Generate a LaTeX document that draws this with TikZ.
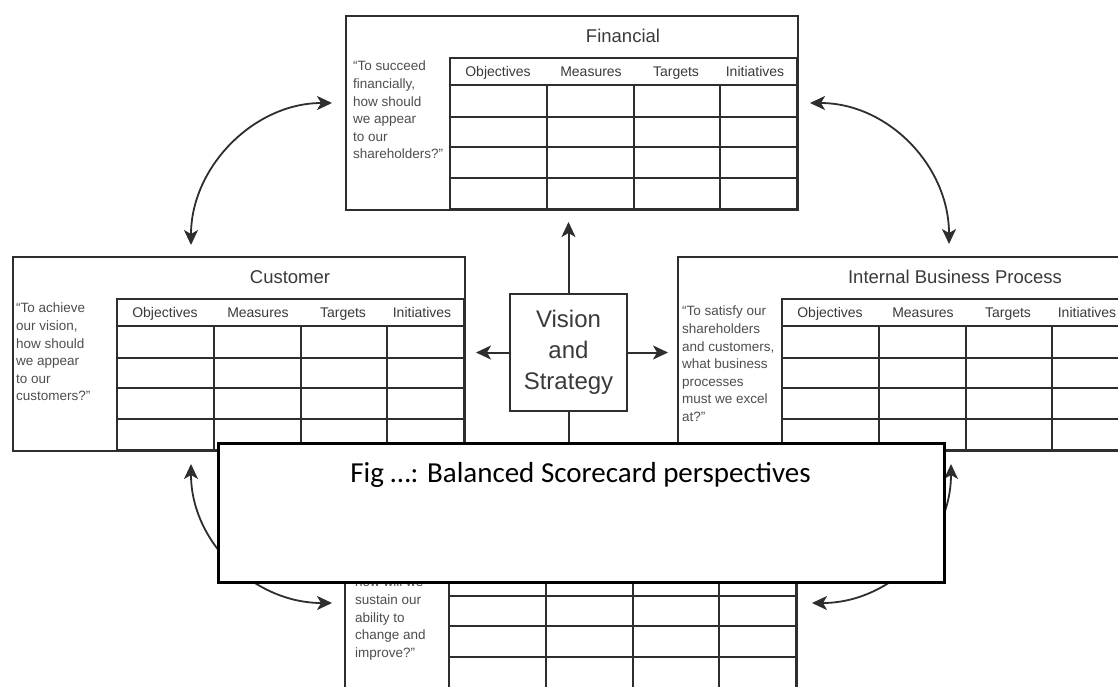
\documentclass[tikz,border=0pt]{standalone}
\usepackage{fontspec}
\setmainfont{Liberation Sans}
\newfontfamily\captionfont{Carlito}
\usetikzlibrary{arrows.meta,calc}
\definecolor{ink}{HTML}{2E2E2E}
\definecolor{txt}{HTML}{3A3A3A}
\definecolor{qtxt}{HTML}{4E4E4E}
\tikzset{
  cardframe/.style={draw=ink, line width=2pt, minimum width=452pt, minimum height=194pt, inner sep=0pt, anchor=north west},
  gridline/.style={draw=ink, line width=1.3pt},
  cardtitle/.style={text=txt, font=\fontsize{18.5}{22}\selectfont, inner sep=0pt, anchor=base},
  colhead/.style={text=txt, font=\fontsize{14}{16}\selectfont, inner sep=0pt, anchor=base},
  question/.style={text=qtxt, font=\fontsize{13.5}{17.6}\selectfont, align=left, inner sep=0pt, anchor=north west},
  visionbox/.style={draw=ink, line width=2pt, minimum width=117pt, minimum height=117pt, align=center, text=txt, font=\fontsize{24}{31}\selectfont, inner sep=0pt},
  tipstyle/.style={Stealth[length=15pt,width=14pt,inset=4pt]},
  vsarrow/.style={-{Stealth[length=15pt,width=14pt,inset=4pt]}, draw=ink, line width=2pt},
  biarrow/.style={{Stealth[length=15pt,width=14pt,inset=4pt]}-{Stealth[length=15pt,width=14pt,inset=4pt]}, draw=ink, line width=1.8pt},
  captionbox/.style={draw=black, line width=2.5pt, fill=white, minimum width=726pt, minimum height=139pt, inner sep=0pt, anchor=north west},
  captiontext/.style={font=\captionfont\fontsize{29}{34}\selectfont, text=black, inner sep=0pt, anchor=base},
}
% frame of one perspective card with its objectives/measures/targets/initiatives grid
\newcommand\cardgrid[3]{%
  \node[cardframe] (#1) at (#2,#3) {};
  \begin{scope}[shift={(#2,#3)}]
    \draw[gridline] (105,43) rectangle (452,194);
    \draw[gridline] (105,70) -- (452,70);
    \foreach \r in {102,132,163} {\draw[gridline] (105,\r) -- (452,\r);}
    \foreach \c in {202,289,375} {\draw[gridline] (\c,70) -- (\c,194);}
  \end{scope}}
% card title and column headings
\newcommand\cardheads[4]{%
  \begin{scope}[shift={(#2,#3)}]
    \node[cardtitle] (#1-title) at (278,27.5) {#4};
    \node[colhead] (#1-obj) at (153,61) {Objectives};
    \node[colhead] (#1-mea) at (246,61) {Measures};
    \node[colhead] (#1-tar) at (331,61) {Targets};
    \node[colhead] (#1-ini) at (410,61) {Initiatives};
  \end{scope}}
\begin{document}
\begin{tikzpicture}[x=1pt,y=-1pt]
\clip (0,0) rectangle (1118,686);
\fill[white] (0,0) rectangle (1118,686);

% the four perspectives
\cardgrid{fin}{345}{15}
\cardheads{fin}{345}{15}{Financial}
\node[question] (fin-q) at (353,61) {``To succeed\\financially,\\how should\\we appear\\to our\\shareholders?''};

\cardgrid{cus}{12}{256}
\cardheads{cus}{12}{256}{Customer}
\node[question] (cus-q) at (16,303) {``To achieve\\our vision,\\how should\\we appear\\to our\\customers?''};

\cardgrid{ibp}{677}{256}
\cardheads{ibp}{677}{256}{Internal Business Process}
\node[question] (ibp-q) at (682,306) {``To satisfy our\\shareholders\\and customers,\\what business\\processes\\must we excel\\at?''};

\cardgrid{lrn}{344}{494}
\node[question] (lrn-q) at (355,577) {how will we\\sustain our\\ability to\\change and\\improve?''};

% vision and strategy in the middle
\node[visionbox] (vs) at (568.5,352.5) {Vision\\and\\Strategy};
\draw[vsarrow, shorten >=11pt] (vs.north) -- (vs.north |- fin.south);
\draw[vsarrow, shorten >=10pt] (vs.west) -- (vs.west -| cus.east);
\draw[vsarrow, shorten >=9pt] (vs.east) -- (vs.east -| ibp.west);
\draw[vsarrow, shorten >=10pt] (vs.south) -- (vs.south |- lrn.north);

% links between neighbouring perspectives
\draw[biarrow] ($(cus.north west)+(179,-11)$) .. controls +(0,-78) and +(-78,0) .. ($(fin.north west)+(-13,88)$);
\draw[biarrow] ($(ibp.north west)+(272,-12)$) .. controls +(0,-78) and +(78,0) .. ($(fin.north east)+(11,88)$);
\draw[biarrow] ($(cus.south west)+(179,12)$) .. controls +(0,78) and +(-78,0) .. ($(lrn.north west)+(-12,109)$);
\draw[biarrow] ($(ibp.south west)+(274,12)$) .. controls +(0,78) and +(78,0) .. ($(lrn.north east)+(14,109)$);

% caption panel
\node[captionbox] (capbox) at (217,442) {};
\node[captiontext] (captext) at (580.5,482) {Fig …: Balanced Scorecard perspectives};
\end{tikzpicture}
\end{document}
